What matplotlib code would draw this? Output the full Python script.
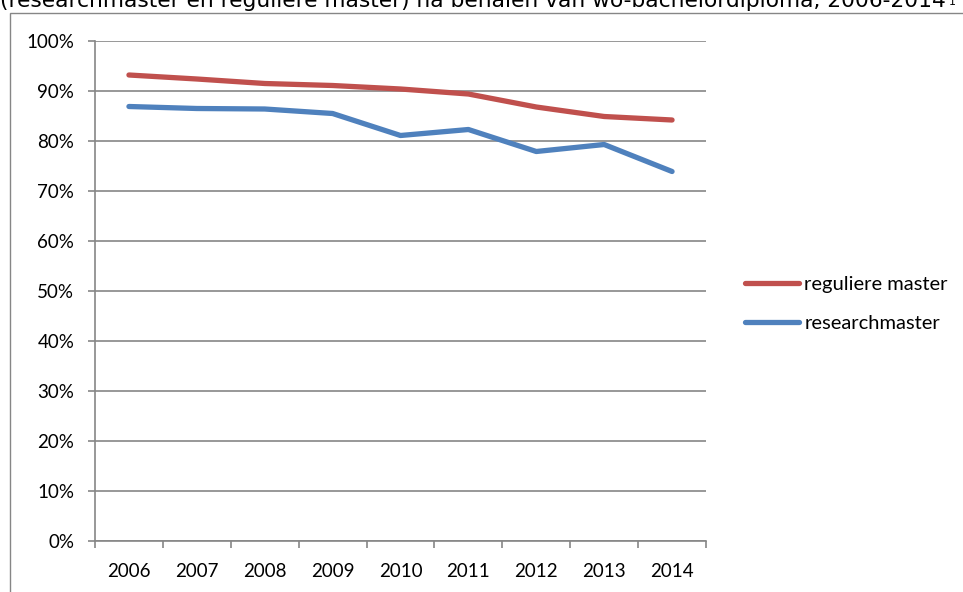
import numpy as np
import matplotlib.pyplot as plt
from matplotlib.patches import Rectangle
from matplotlib.ticker import FixedLocator

years = ["2006", "2007", "2008", "2009", "2010", "2011", "2012", "2013", "2014"]
reguliere = [93.2, 92.4, 91.5, 91.1, 90.4, 89.4, 86.8, 84.9, 84.2]
research = [86.9, 86.5, 86.4, 85.5, 81.1, 82.3, 77.9, 79.3, 73.9]
title = "(researchmaster en reguliere master) na behalen van wo-bachelordiploma, 2006-2014"
footnote = "1"

W, H = 963, 592
fig = plt.figure(figsize=(W / 100, H / 100), dpi=100)
grey = "#868686"

# outer chart border (cut off at right and bottom)
fig.patches.append(Rectangle((10 / W, -0.1), 1.2, 1.1 - 13 / H, transform=fig.transFigure,
                             fill=False, edgecolor=grey, linewidth=1.0))
t = fig.text(0 / W, 1 - 7 / H, title, fontsize=15.7, family="DejaVu Sans",
             va="baseline", ha="left")
fig.canvas.draw()
bb = t.get_window_extent()
fig.text((bb.x1 + 3) / W, 1 - 5 / H, footnote, fontsize=8, family="DejaVu Sans",
         va="baseline", ha="left")

ax = fig.add_axes([95 / W, 1 - 541 / H, (706 - 95) / W, (541 - 41) / H])
x = np.arange(len(years))
ax.plot(x, reguliere, color="#C0504D", lw=3.8, solid_capstyle="round",
        solid_joinstyle="round", label="reguliere master")
ax.plot(x, research, color="#4F81BD", lw=3.8, solid_capstyle="round",
        solid_joinstyle="round", label="researchmaster")

ax.set_xlim(-0.5, len(years) - 0.5)
ax.set_ylim(0, 100)
ax.set_yticks(np.arange(0, 101, 10))
ax.set_yticklabels([f"{v}%" for v in range(0, 101, 10)], family="Lato", fontsize=13.5)
ax.set_xticks(x)
ax.set_xticklabels(years, family="Lato", fontsize=13.5)
ax.xaxis.set_minor_locator(FixedLocator(np.arange(-0.5, len(years), 1.0)))
ax.tick_params(axis="x", which="major", length=0, pad=16)
ax.tick_params(axis="x", which="minor", length=5, color=grey, width=1.2)
ax.tick_params(axis="y", length=5, color=grey, width=1.2, pad=10)
ax.grid(axis="y", color=grey, lw=1.2)
ax.set_axisbelow(True)
for s in ["top", "right"]:
    ax.spines[s].set_visible(False)
for s in ["left", "bottom"]:
    ax.spines[s].set_color(grey)
    ax.spines[s].set_linewidth(1.2)

fig.legend(loc="center left", bbox_to_anchor=(745 / W, 1 - 304 / H), frameon=False,
           prop={"family": "Lato", "size": 14.5}, handlelength=2.7, handletextpad=0.25,
           labelspacing=1.05, borderaxespad=0, borderpad=0)

fig.savefig("out.png", dpi=100)
